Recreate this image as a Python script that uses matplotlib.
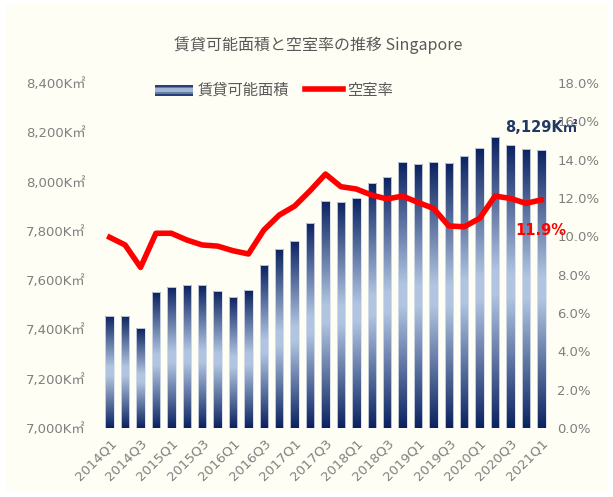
import numpy as np
import matplotlib
matplotlib.use('Agg')
from matplotlib import pyplot as plt
from matplotlib.colors import LinearSegmentedColormap
from matplotlib.patches import Rectangle
from matplotlib.lines import Line2D
from matplotlib.legend_handler import HandlerBase

plt.rcParams['font.family'] = ['DejaVu Sans', 'Noto Sans CJK JP']
jp = ['Noto Sans CJK JP', 'DejaVu Sans']

# data
quarters = ['2014Q1', '2014Q2', '2014Q3', '2014Q4',
            '2015Q1', '2015Q2', '2015Q3', '2015Q4',
            '2016Q1', '2016Q2', '2016Q3', '2016Q4',
            '2017Q1', '2017Q2', '2017Q3', '2017Q4',
            '2018Q1', '2018Q2', '2018Q3', '2018Q4',
            '2019Q1', '2019Q2', '2019Q3', '2019Q4',
            '2020Q1', '2020Q2', '2020Q3', '2020Q4',
            '2021Q1']
area = [7456, 7456, 7405, 7551, 7574, 7579, 7579, 7556, 7533, 7560,
        7661, 7725, 7759, 7832, 7923, 7918, 7932, 7993, 8020, 8078,
        8071, 8078, 8074, 8104, 8135, 8180, 8149, 8134, 8129]
vacancy = [9.95, 9.55, 8.38, 10.16, 10.16, 9.81, 9.55, 9.49, 9.25, 9.08,
           10.33, 11.11, 11.58, 12.38, 13.25, 12.59, 12.47, 12.15, 11.95, 12.10,
           11.77, 11.46, 10.54, 10.50, 10.94, 12.10, 11.98, 11.72, 11.9]
left_ticks = [7000, 7200, 7400, 7600, 7800, 8000, 8200, 8400]
right_ticks = [0, 2, 4, 6, 8, 10, 12, 14, 16, 18]

title = '賃貸可能面積と空室率の推移 Singapore'
bar_name = '賃貸可能面積'
line_name = '空室率'

navy = '#0b2260'
light = '#b1c5e1'
grey = '#7f7f7f'
cmap = LinearSegmentedColormap.from_list(
    'bargrad', [(0, navy), (0.46, light), (0.54, light), (1, navy)])


class GradHandler(HandlerBase):
    def create_artists(self, legend, orig, xd, yd, w, h, fs, trans):
        n = 6
        arts = []
        for i in range(n):
            c = cmap((i + 0.5) / n)
            arts.append(Rectangle((xd, yd + h * i / n - h * 0.1), w, h / n,
                                  facecolor=c, edgecolor='none', transform=trans))
        return arts


fig = plt.figure(figsize=(6.13, 4.97), dpi=100)
fig.patch.set_facecolor('white')
fig.patches.append(Rectangle((5 / 613, 5 / 497), 603 / 613, 488 / 497,
                             transform=fig.transFigure, facecolor='#fffef5',
                             edgecolor='none', zorder=-10))

ax = fig.add_axes([102 / 613, 1 - 428 / 497, 447 / 613, 345 / 497])
ax.patch.set_alpha(0)
x = np.arange(len(quarters))
bars = ax.bar(x, np.array(area) - 7000, bottom=7000, width=0.55,
              color='none', edgecolor='#d6deeb', linewidth=0.6, zorder=3)
grad = np.linspace(0, 1, 256).reshape(-1, 1)
for b in bars:
    im = ax.imshow(grad, cmap=cmap, aspect='auto', origin='upper',
                   extent=[b.get_x(), b.get_x() + b.get_width(),
                           b.get_y(), b.get_y() + b.get_height()], zorder=2)
    im.set_clip_path(b)

ax.set_xlim(-0.5, len(quarters) - 0.5)
ax.set_ylim(7000, 8400)
ax.set_yticks(left_ticks)
ax.set_yticklabels([f'{v:,}K㎡' for v in left_ticks])
ax.set_xticks(x[::2])
ax.set_xticklabels(quarters[::2], rotation=45, ha='right', rotation_mode='anchor')
for s in ax.spines.values():
    s.set_visible(False)
ax.tick_params(axis='y', length=0, pad=12, labelsize=9.5, labelcolor=grey)
ax.tick_params(axis='x', length=0, pad=6, labelsize=9.5, labelcolor=grey)

ax2 = ax.twinx()
ax2.patch.set_alpha(0)
ax2.plot(x, vacancy, color='#ff0000', lw=4, solid_joinstyle='round', zorder=5)
ax2.set_ylim(0, 18)
ax2.set_yticks(right_ticks)
ax2.set_yticklabels([f'{v:.1f}%' for v in right_ticks])
for s in ax2.spines.values():
    s.set_visible(False)
ax2.tick_params(axis='y', length=0, pad=6, labelsize=9.5, labelcolor=grey)

# end-point labels
ax.annotate(f'{area[-1]:,}K㎡', (x[-1], area[-1]), xytext=(0, 16),
            textcoords='offset points', ha='center', va='center',
            fontsize=10.5, fontweight='bold', color='#1f3864', zorder=6)
ax2.annotate(f'{vacancy[-1]:.1f}%', (x[-1], vacancy[-1]), xytext=(0, -22),
             textcoords='offset points', ha='center', va='center',
             fontsize=10.5, fontweight='bold', color='#ff0000', zorder=6)

fig.text(318 / 613, 1 - 45 / 497, title, ha='center', va='center',
         fontsize=11.5, color='#595959', family=jp)

h1 = Rectangle((0, 0), 1, 1)
h2 = Line2D([], [], color='#ff0000', lw=4)
fig.legend([h1, h2], [bar_name, line_name], handler_map={h1: GradHandler()},
           loc='center', bbox_to_anchor=(274 / 613, 1 - 90 / 497), ncol=2,
           frameon=False, prop={'family': jp, 'size': 11}, handlelength=2.5,
           handletextpad=0.3, columnspacing=1.0, labelcolor='#595959')

plt.savefig('out.png', dpi=100)
